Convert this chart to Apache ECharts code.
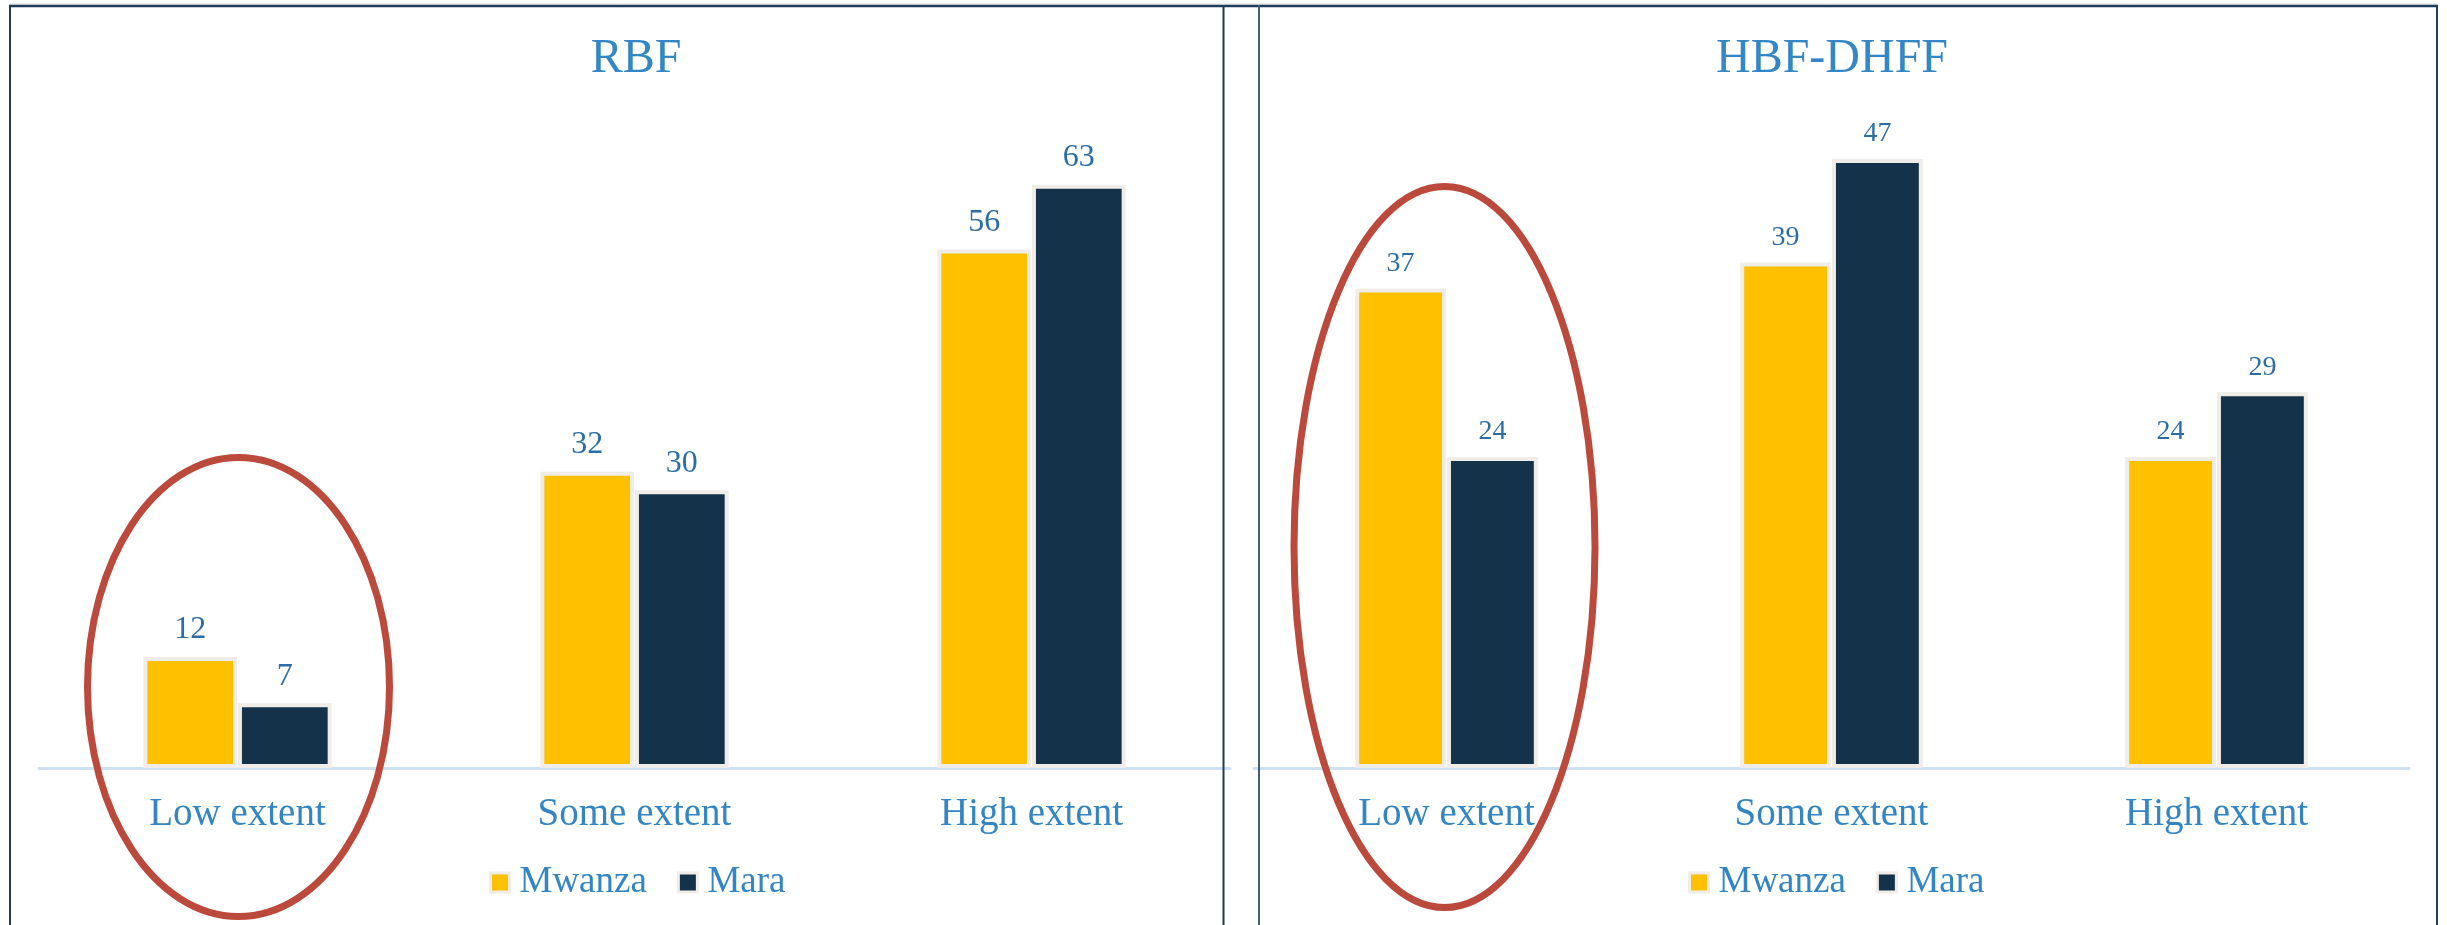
<!DOCTYPE html>
<html><head><meta charset="utf-8">
<script src="https://cdn.jsdelivr.net/npm/echarts@6/dist/echarts.min.js"></script>
<style>html,body{margin:0;padding:0;background:#fff}#c{width:2447px;height:925px}</style>
</head><body><div id="c"></div>
<script>
// ---- data ----
const categories = ['Low extent', 'Some extent', 'High extent'];
const seriesNames = ['Mwanza', 'Mara'];
const panelTitles = ['RBF', 'HBF-DHFF'];
const rbfMwanza = [12, 32, 56];
const rbfMara = [7, 30, 63];
const hbfMwanza = [37, 39, 24];
const hbfMara = [24, 47, 29];
const yMax = [70, 50];

// ---- styles ----
const FONT = "'Liberation Serif', 'Times New Roman', serif";
const YELLOW = '#FFC000';
const NAVY = '#14324A';
const BAR_BORDER = '#F0EDE8';
const TITLE_C = '#3487C6';
const CAT_C = '#3385C5';
const LBL_C = '#2D6DA5';
const FRAME = '#1F3D5A';
const RED = '#BC4A3C';

const chart = echarts.init(document.getElementById('c'), null, {renderer: 'canvas'});

function barSeries(name, data, gi, fs, color) {
  return {
    type: 'bar', name: name, data: data,
    xAxisIndex: gi, yAxisIndex: gi,
    barWidth: '23.6%', barGap: '1%',
    itemStyle: {color: color, borderColor: BAR_BORDER, borderWidth: 4},
    label: {show: true, position: 'top', distance: 11, color: LBL_C,
      fontFamily: FONT, fontSize: fs, textBorderWidth: 0},
    emphasis: {disabled: true},
    animation: false
  };
}

const grids = [
  {left: 39, top: 120, width: 1191, height: 648, containLabel: false},
  {left: 1254, top: 120, width: 1155, height: 648, containLabel: false}
];

const xAxes = [0, 1].map(i => ({
  type: 'category', gridIndex: i, data: categories,
  axisLine: {show: true, lineStyle: {color: '#CFE2F3', width: 3}},
  axisTick: {show: false},
  splitLine: {show: false},
  axisLabel: {color: CAT_C, fontFamily: FONT, fontSize: 39, margin: 27, interval: 0}
}));
const yAxes = [0, 1].map(i => ({
  type: 'value', gridIndex: i, min: 0, max: yMax[i], show: false,
  splitLine: {show: false}
}));

const legendCommon = {
  data: seriesNames, top: 864, icon: 'rect', itemWidth: 19, itemHeight: 19,
  itemGap: 30, orient: 'horizontal', padding: 0,
  itemStyle: {borderColor: BAR_BORDER, borderWidth: 3},
  textStyle: {color: CAT_C, fontFamily: FONT, fontSize: 37, padding: [0, 0, 0, 5]},
  selectedMode: false
};

const option = {
  backgroundColor: '#ffffff',
  animation: false,
  title: [
    {text: panelTitles[0], left: 636, top: 35, textAlign: 'center', padding: 0,
      textStyle: {color: TITLE_C, fontFamily: FONT, fontSize: 48, fontWeight: 'normal'}},
    {text: panelTitles[1], left: 1832, top: 35, textAlign: 'center', padding: 0,
      textStyle: {color: TITLE_C, fontFamily: FONT, fontSize: 48, fontWeight: 'normal'}}
  ],
  legend: [
    Object.assign({}, legendCommon, {left: 489}),
    Object.assign({}, legendCommon, {left: 1688})
  ],
  grid: grids,
  xAxis: xAxes,
  yAxis: yAxes,
  series: [
    barSeries(seriesNames[0], rbfMwanza, 0, 32, YELLOW),
    barSeries(seriesNames[1], rbfMara, 0, 32, NAVY),
    barSeries(seriesNames[0], hbfMwanza, 1, 28, YELLOW),
    barSeries(seriesNames[1], hbfMara, 1, 28, NAVY)
  ]
};
chart.setOption(option);

// ---- frames and annotation ellipses ----
const p0 = chart.convertToPixel({gridIndex: 0}, [categories[0], 0]);
const p1 = chart.convertToPixel({gridIndex: 1}, [categories[0], 0]);

chart.setOption({
  graphic: [
    {type: 'line', shape: {x1: 9, y1: 4, x2: 2438, y2: 4}, style: {stroke: '#D9DEE3', lineWidth: 1}, z: 90, silent: true},
    {type: 'line', shape: {x1: 9, y1: 6, x2: 2438, y2: 6}, style: {stroke: FRAME, lineWidth: 2.5}, z: 90, silent: true},
    {type: 'line', shape: {x1: 10, y1: 5, x2: 10, y2: 930}, style: {stroke: FRAME, lineWidth: 2}, z: 90, silent: true},
    {type: 'line', shape: {x1: 1223.5, y1: 5, x2: 1223.5, y2: 930}, style: {stroke: FRAME, lineWidth: 2}, z: 90, silent: true},
    {type: 'line', shape: {x1: 1259, y1: 5, x2: 1259, y2: 930}, style: {stroke: '#3E5E7C', lineWidth: 2}, z: 90, silent: true},
    {type: 'line', shape: {x1: 2437, y1: 5, x2: 2437, y2: 930}, style: {stroke: FRAME, lineWidth: 2}, z: 90, silent: true},
    {type: 'ellipse', shape: {cx: p0[0] + 1, cy: 687, rx: 151, ry: 229.5},
      style: {fill: 'none', stroke: RED, lineWidth: 7}, z: 100, silent: true},
    {type: 'ellipse', shape: {cx: p1[0] - 2, cy: 547, rx: 150.5, ry: 360.5},
      style: {fill: 'none', stroke: RED, lineWidth: 7}, z: 100, silent: true}
  ]
});
</script>
</body></html>
